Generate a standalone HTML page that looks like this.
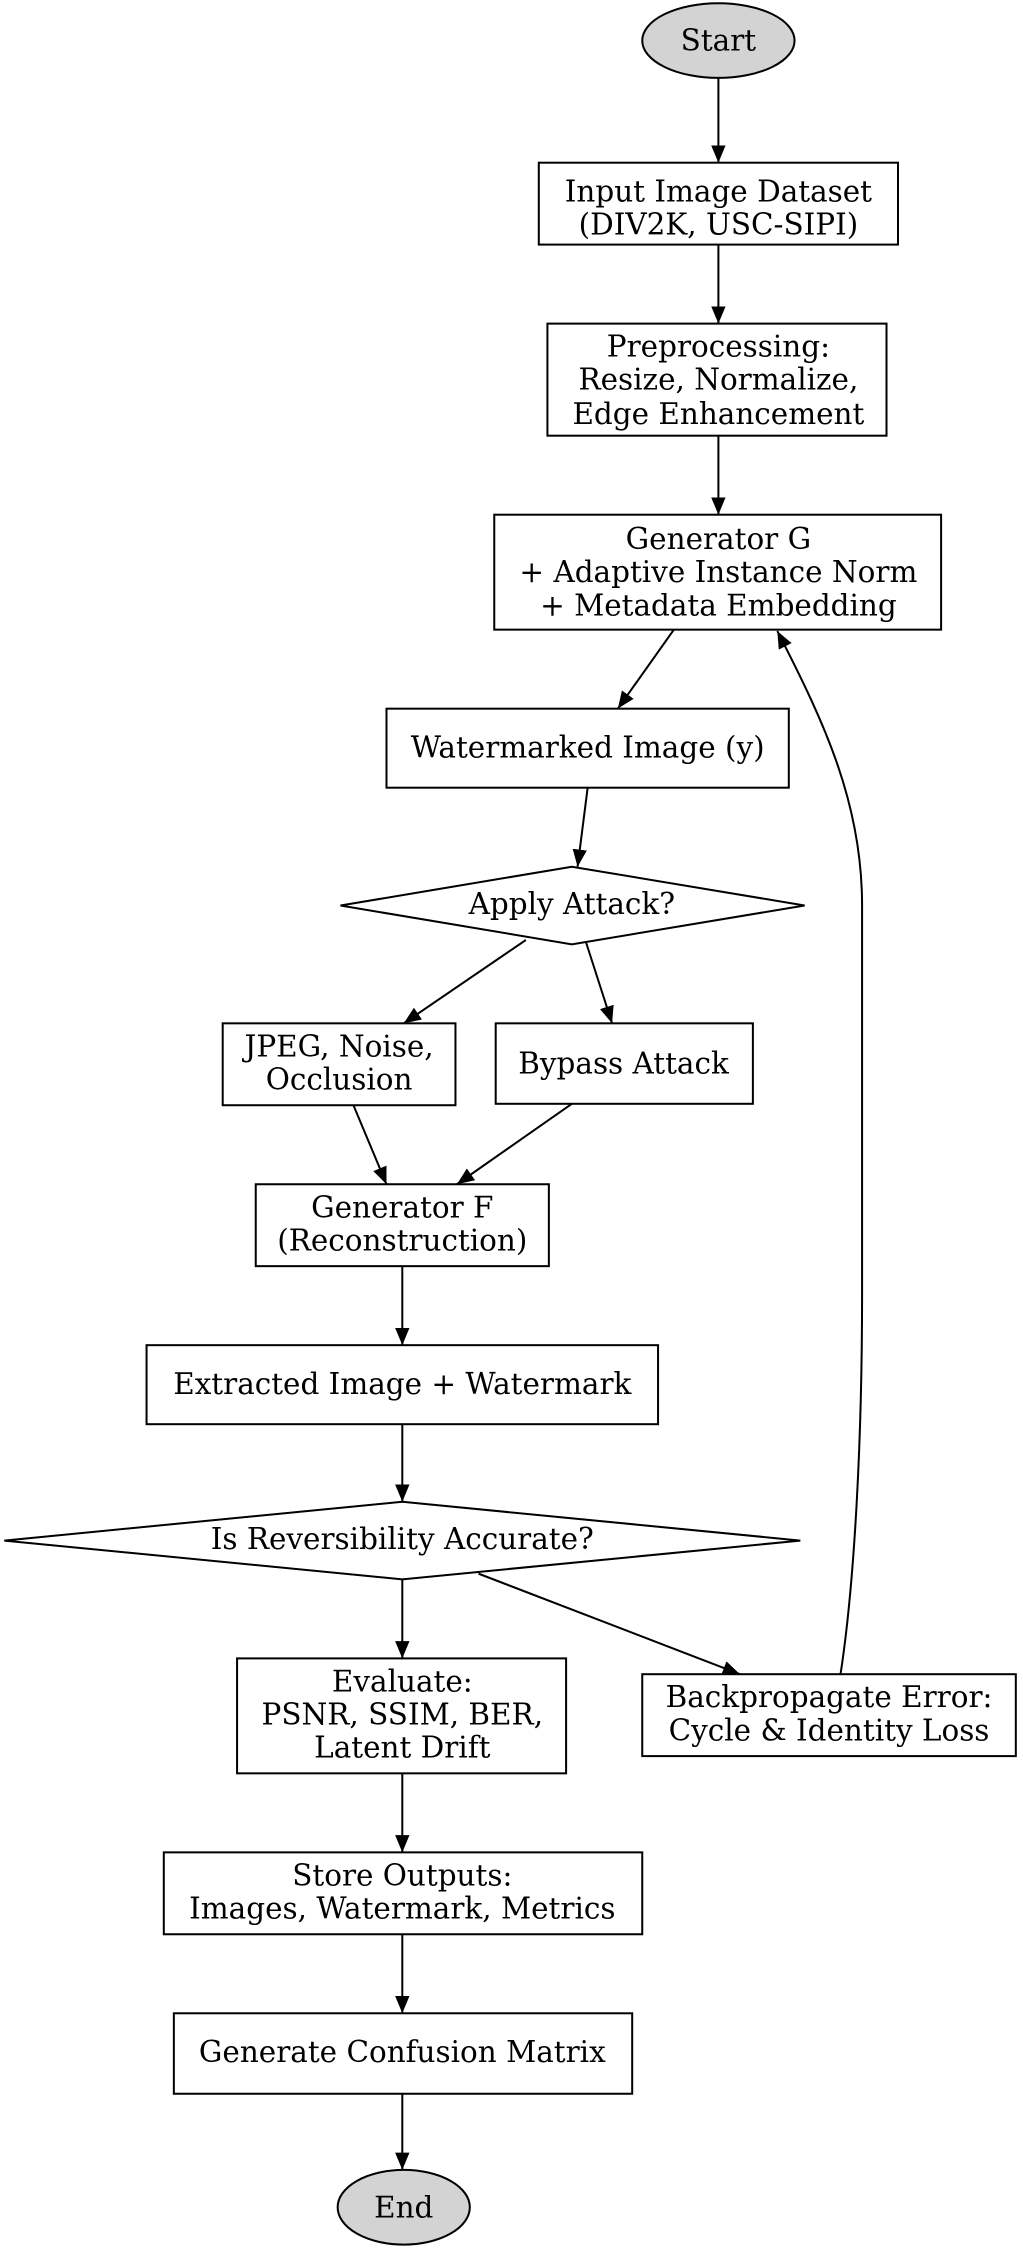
<!DOCTYPE html>
<html><head><meta charset="utf-8"><style>html,body{margin:0;padding:0;background:#fff}svg{display:block}</style></head>
<body>
<svg width="1023" height="2255" viewBox="0 0 712 1569" xmlns="http://www.w3.org/2000/svg" font-family="'DejaVu Serif', 'Liberation Serif', serif" font-size="20.5" text-anchor="middle">
<defs><marker id="a" markerWidth="12" markerHeight="10" refX="12" refY="5" orient="auto" markerUnits="userSpaceOnUse"><path d="M0,0 L12,5 L0,10 z" fill="#000"/></marker></defs>
<g fill="none" stroke="#000" stroke-width="1.4">
<ellipse cx="500" cy="28" rx="53" ry="26" fill="#d3d3d3"/>
<rect x="375" y="113" width="250" height="57"/>
<rect x="381" y="225" width="236" height="78"/>
<rect x="344" y="358" width="311" height="80"/>
<rect x="269" y="493" width="280" height="55"/>
<polygon points="237,630 398,603 560,630 398,657"/>
<rect x="155" y="712" width="162" height="57"/>
<rect x="345" y="712" width="179" height="56"/>
<rect x="178" y="824" width="204" height="57"/>
<rect x="102" y="936" width="356" height="55"/>
<polygon points="3,1072 280,1045 557,1072 280,1099"/>
<rect x="165" y="1154" width="229" height="80"/>
<rect x="447" y="1165" width="260" height="57"/>
<rect x="114" y="1289" width="333" height="57"/>
<rect x="121" y="1401" width="319" height="56"/>
<ellipse cx="281" cy="1536" rx="46" ry="26" fill="#d3d3d3"/>
<g marker-end="url(#a)">
<line x1="500" y1="54" x2="500" y2="113"/>
<line x1="500" y1="170" x2="500" y2="225"/>
<line x1="500" y1="303" x2="500" y2="358"/>
<line x1="469" y1="438" x2="430" y2="493"/>
<line x1="409" y1="548" x2="402" y2="603"/>
<line x1="366" y1="654" x2="281" y2="712"/>
<line x1="408" y1="656" x2="426" y2="712"/>
<line x1="246" y1="769" x2="269" y2="824"/>
<line x1="398" y1="768" x2="318" y2="824"/>
<line x1="280" y1="881" x2="280" y2="936"/>
<line x1="280" y1="991" x2="280" y2="1045"/>
<line x1="280" y1="1099" x2="280" y2="1154"/>
<line x1="333" y1="1095" x2="515" y2="1165"/>
<path d="M585,1165 C595,1100 600,1000 600,900 L600,630 C600,560 575,505 541,439"/>
<line x1="280" y1="1234" x2="280" y2="1289"/>
<line x1="280" y1="1346" x2="280" y2="1401"/>
<line x1="280" y1="1457" x2="280" y2="1510"/>
</g></g>
<g fill="#000">
<text x="500" y="35">Start</text>
<text x="500" y="140">Input Image Dataset</text><text x="500" y="163">(DIV2K, USC-SIPI)</text>
<text x="500" y="248">Preprocessing:</text><text x="500" y="271">Resize, Normalize,</text><text x="500" y="295">Edge Enhancement</text>
<text x="500" y="382">Generator G</text><text x="500" y="405">+ Adaptive Instance Norm</text><text x="500" y="428">+ Metadata Embedding</text>
<text x="409" y="527">Watermarked Image (y)</text>
<text x="398" y="636">Apply Attack?</text>
<text x="236" y="735">JPEG, Noise,</text><text x="236" y="758">Occlusion</text>
<text x="434" y="747">Bypass Attack</text>
<text x="280" y="847">Generator F</text><text x="280" y="870">(Reconstruction)</text>
<text x="280" y="970">Extracted Image + Watermark</text>
<text x="280" y="1078">Is Reversibility Accurate?</text>
<text x="280" y="1177">Evaluate:</text><text x="280" y="1200">PSNR, SSIM, BER,</text><text x="280" y="1223">Latent Drift</text>
<text x="577" y="1188">Backpropagate Error:</text><text x="577" y="1211">Cycle &amp; Identity Loss</text>
<text x="280" y="1312">Store Outputs:</text><text x="280" y="1335">Images, Watermark, Metrics</text>
<text x="280" y="1435">Generate Confusion Matrix</text>
<text x="281" y="1543">End</text>
</g>
</svg>
</body></html>
